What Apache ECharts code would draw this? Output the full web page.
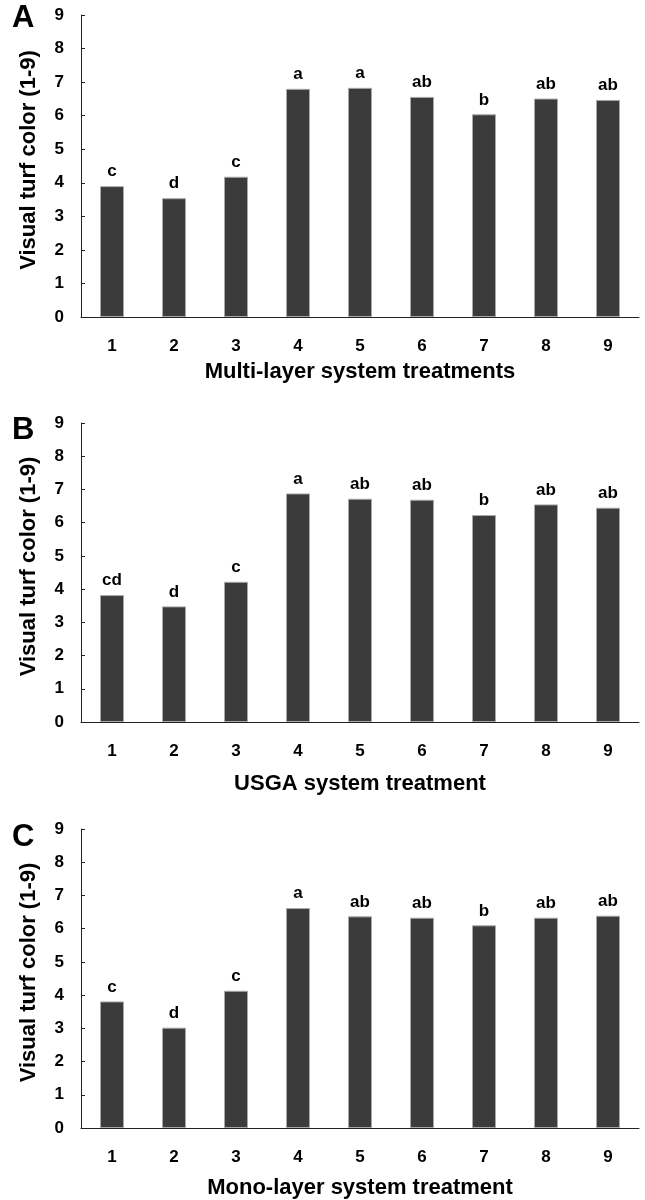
<!DOCTYPE html>
<html>
<head>
<meta charset="utf-8">
<title>Visual turf color</title>
<script src="https://cdn.jsdelivr.net/npm/echarts@6/dist/echarts.min.js"></script>
<style>
  html, body { margin: 0; padding: 0; background: #fff; }
  #main { width: 645px; height: 1200px; }
</style>
</head>
<body>
<div id="main"></div>
<script>
// treatments 1-9, same for all three panels
var categories = ['1', '2', '3', '4', '5', '6', '7', '8', '9']
var yTicks = [0, 9, 1] // min, max, step

// A - multi-layer
var multiValues = [3.90, 3.54, 4.18, 6.80, 6.83, 6.56, 6.04, 6.51, 6.47]
var multiLetters = ['c', 'd', 'c', 'a', 'a', 'ab', 'b', 'ab', 'ab']
// B - USGA
var usgaValues = [3.82, 3.48, 4.22, 6.88, 6.72, 6.69, 6.23, 6.55, 6.45]
var usgaLetters = ['cd', 'd', 'c', 'a', 'ab', 'ab', 'b', 'ab', 'ab']
// C - mono-layer
var monoValues = [3.81, 3.02, 4.13, 6.62, 6.37, 6.33, 6.10, 6.33, 6.39]
var monoLetters = ['c', 'd', 'c', 'a', 'ab', 'ab', 'b', 'ab', 'ab']

var yName = 'Visual turf color (1-9)'
var xNames = ['Multi-layer system treatments', 'USGA system treatment', 'Mono-layer system treatment']
var panelLetters = ['A', 'B', 'C']

var font = '"Liberation Sans", Arial, sans-serif'
var ink = '#000'

var panels = [
  { top: 15, height: 302, gap: 44, values: multiValues, letters: multiLetters, labelY: 20 },
  { top: 423, height: 299, gap: 51, values: usgaValues, letters: usgaLetters, labelY: 432 },
  { top: 829, height: 300, gap: 49, values: monoValues, letters: monoLetters, labelY: 839 }
]

var grids = []
var xAxes = []
var yAxes = []
var series = []
var graphics = []

panels.forEach(function (p, i) {
  grids.push({ left: 81, width: 558, top: p.top, height: p.height })
  xAxes.push({
    gridIndex: i,
    type: 'category',
    data: categories,
    name: xNames[i],
    nameLocation: 'middle',
    nameGap: p.gap,
    nameTextStyle: { fontFamily: font, fontWeight: 'bold', fontSize: 22, color: ink },
    axisLine: { lineStyle: { color: '#222', width: 1 } },
    axisTick: { inside: true, length: 4, lineStyle: { color: '#222' } },
    axisLabel: { margin: 21, fontFamily: font, fontWeight: 'bold', fontSize: 17, color: ink }
  })
  yAxes.push({
    gridIndex: i,
    type: 'value',
    min: yTicks[0],
    max: yTicks[1],
    interval: yTicks[2],
    name: yName,
    nameLocation: 'middle',
    nameRotate: 90,
    nameGap: 41,
    nameTextStyle: { fontFamily: font, fontWeight: 'bold', fontSize: 22, color: ink, padding: [0, 0, 0, 12] },
    axisLine: { show: true, lineStyle: { color: '#222', width: 1 } },
    axisTick: { show: true, inside: true, length: 4, lineStyle: { color: '#222' } },
    splitLine: { show: false },
    axisLabel: { margin: 17, fontFamily: font, fontWeight: 'bold', fontSize: 17, color: ink }
  })
  series.push({
    type: 'bar',
    xAxisIndex: i,
    yAxisIndex: i,
    data: p.values,
    barWidth: 24,
    itemStyle: { color: '#3b3b3b', borderColor: '#a8a8a8', borderWidth: 1 },
    label: {
      show: true,
      position: 'top',
      distance: 6,
      fontFamily: font,
      fontWeight: 'bold',
      fontSize: 17,
      color: ink,
      formatter: function (d) { return p.letters[d.dataIndex] }
    }
  })
  graphics.push({
    type: 'text',
    left: 12,
    top: p.labelY - 17,
    style: { text: panelLetters[i], font: 'bold 31px ' + font, fill: ink }
  })
})

var chart = echarts.init(document.getElementById('main'))
chart.setOption({
  animation: false,
  backgroundColor: '#fff',
  grid: grids,
  xAxis: xAxes,
  yAxis: yAxes,
  series: series,
  graphic: graphics
})
</script>
</body>
</html>
